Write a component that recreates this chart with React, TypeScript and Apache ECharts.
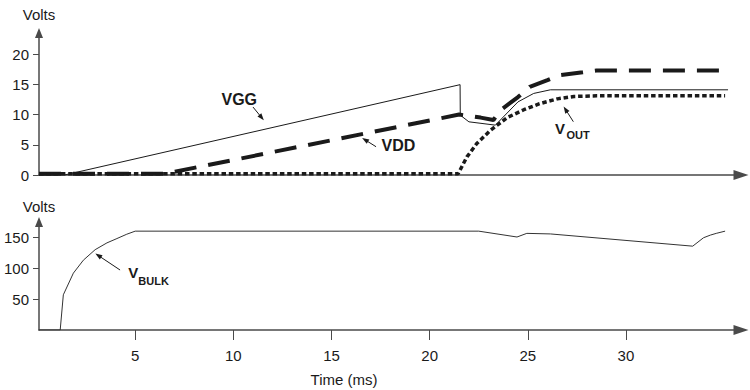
import React, { useEffect, useRef } from "react";
import * as echarts from "echarts";

// ---- data (time in ms, volts) ----
const T_VGG = [0.1, 1.4, 21.55, 21.56, 22.0, 23.35, 23.75, 24.5, 25.3, 26.15, 35.2];
const V_VGG = [0, 0, 14.95, 9.9, 8.8, 8.25, 9.6, 12.1, 13.5, 14.1, 14.1];

const T_VDD = [0.1, 6.5, 21.5, 22.6, 23.25, 23.6, 24.5, 25.1, 26.0, 26.6, 27.8, 28.5, 35.05];
const V_VDD = [0.2, 0.2, 10.0, 9.5, 9.1, 10.7, 12.9, 14.6, 15.7, 16.5, 17.0, 17.3, 17.3];

const T_VOUT = [0.1, 21.45, 21.9, 22.4, 23.1, 23.95, 24.8, 25.6, 26.5, 27.35, 28.5, 35.05];
const V_VOUT = [0.2, 0.2, 3.0, 5.2, 7.4, 9.5, 10.8, 11.8, 12.6, 13.0, 13.1, 13.1];

const T_BULK = [0.1, 1.18, 1.34, 1.85, 2.36, 2.96, 3.56, 4.07, 4.57, 5.0, 22.5, 24.45, 24.95, 26.15, 33.4, 33.95, 34.3, 34.6, 35.05];
const V_BULK = [0, 0, 57, 92, 113, 130, 141, 148, 155, 160, 160, 150.5, 156.4, 155.5, 135.7, 149.3, 153.6, 156.4, 160];

const X_TICKS = [5, 10, 15, 20, 25, 30];
const TOP_Y_TICKS = [0, 5, 10, 15, 20];
const BOTTOM_Y_TICKS = [50, 100, 150];

// annotation arrows: [tailT, tailV, headT, headV]
const ARROW_VGG = [11.0, 11.25, 11.44, 9.5];
const ARROW_VDD = [17.27, 4.68, 16.71, 5.82];
const ARROW_VOUT = [27.32, 8.82, 26.92, 10.86];
const ARROW_BULK = [4.23, 97.1, 3.12, 120.6];

const pairs = (t: number[], v: number[]) => t.map((x, i) => [x, v[i]]);

const FONT = '"Liberation Sans", Arial, Helvetica, sans-serif';
const INK = "#1a1a1a";
const AXIS = "#4a4a4a";

const arrowMark = (a: number[]) => ({
  silent: true,
  symbol: ["none", "triangle"],
  symbolSize: [5, 7],
  lineStyle: { color: INK, width: 1, type: "solid" },
  label: { show: false },
  emphasis: { disabled: true },
  data: [[{ coord: [a[0], a[1]] }, { coord: [a[2], a[3]] }]],
});

const axisLineStyle = { color: AXIS, width: 1.5 };

export default function App() {
  const ref = useRef<HTMLDivElement>(null);
  useEffect(() => {
    if (!ref.current) return;
    const chart = echarts.init(ref.current, null, { renderer: "svg" });
    const xBase = {
      type: "value",
      min: 0.1,
      max: 35.86,
      splitLine: { show: false },
      axisLine: {
        show: true,
        symbol: ["none", "triangle"],
        symbolSize: [10, 15],
        lineStyle: axisLineStyle,
      },
    };
    const yBase = {
      type: "value",
      min: 0,
      splitLine: { show: false },
      nameLocation: "end",
      nameTextStyle: { fontSize: 15, color: INK, fontFamily: FONT, align: "center" },
      axisLine: {
        show: true,
        onZero: false,
        symbol: ["none", "triangle"],
        symbolSize: [8, 10],
        lineStyle: axisLineStyle,
      },
    };
    chart.setOption({
      animation: false,
      textStyle: { fontFamily: FONT },
      grid: [
        { left: 39, right: 9, top: 33, height: 142 },
        { left: 39, right: 9, top: 222, height: 108 },
      ],
      xAxis: [
        {
          ...xBase,
          gridIndex: 0,
          axisTick: { show: false },
          axisLabel: { show: false },
        },
        {
          ...xBase,
          gridIndex: 1,
          axisTick: { show: true, customValues: X_TICKS, length: 10, lineStyle: { color: AXIS, width: 1 } },
          axisLabel: { customValues: X_TICKS, margin: 18, fontSize: 15, color: INK, fontFamily: FONT },
        },
      ],
      yAxis: [
        {
          ...yBase,
          gridIndex: 0,
          max: 23.5,
          name: "Volts",
          nameGap: 11,
          axisTick: { show: true, customValues: TOP_Y_TICKS, length: 6, lineStyle: { color: AXIS, width: 1 } },
          axisLabel: { customValues: TOP_Y_TICKS, margin: 10, fontSize: 15, color: INK, fontFamily: FONT },
        },
        {
          ...yBase,
          gridIndex: 1,
          max: 174.8,
          name: "Volts",
          nameGap: 8,
          axisTick: { show: true, customValues: BOTTOM_Y_TICKS, length: 6, lineStyle: { color: AXIS, width: 1 } },
          axisLabel: { customValues: BOTTOM_Y_TICKS, margin: 10, fontSize: 15, color: INK, fontFamily: FONT },
        },
      ],
      series: [
        {
          name: "VGG",
          type: "line",
          xAxisIndex: 0,
          yAxisIndex: 0,
          data: pairs(T_VGG, V_VGG),
          symbol: "none",
          showSymbol: false,
          lineStyle: { color: INK, width: 1 },
          emphasis: { disabled: true },
          markLine: arrowMark(ARROW_VGG),
          z: 2,
        },
        {
          name: "VDD",
          type: "line",
          xAxisIndex: 0,
          yAxisIndex: 0,
          data: pairs(T_VDD, V_VDD),
          symbol: "none",
          showSymbol: false,
          lineStyle: { color: INK, width: 4, type: [22, 12], cap: "butt" },
          emphasis: { disabled: true },
          markLine: arrowMark(ARROW_VDD),
          z: 3,
        },
        {
          name: "VOUT",
          type: "line",
          xAxisIndex: 0,
          yAxisIndex: 0,
          data: pairs(T_VOUT, V_VOUT),
          symbol: "none",
          showSymbol: false,
          lineStyle: { color: INK, width: 3.5, type: [4.5, 2.8], cap: "butt" },
          emphasis: { disabled: true },
          markLine: arrowMark(ARROW_VOUT),
          z: 4,
        },
        {
          name: "VBULK",
          type: "line",
          xAxisIndex: 1,
          yAxisIndex: 1,
          data: pairs(T_BULK, V_BULK),
          symbol: "none",
          showSymbol: false,
          lineStyle: { color: "#333", width: 1 },
          emphasis: { disabled: true },
          markLine: arrowMark(ARROW_BULK),
          z: 2,
        },
      ],
      graphic: [
        { type: "text", x: 221.5, y: 99.7, style: { text: "VGG", fill: INK, font: `bold 16px ${FONT}`, align: "left", verticalAlign: "middle" } },
        { type: "text", x: 381.5, y: 145.5, style: { text: "VDD", fill: INK, font: `bold 16px ${FONT}`, align: "left", verticalAlign: "middle" } },
        { type: "text", x: 555, y: 128, style: { text: "V", fill: INK, font: `bold 15px ${FONT}`, align: "left", verticalAlign: "middle" } },
        { type: "text", x: 566.5, y: 134.7, style: { text: "OUT", fill: INK, font: `bold 11px ${FONT}`, align: "left", verticalAlign: "middle" } },
        { type: "text", x: 128.3, y: 272.8, style: { text: "V", fill: INK, font: `bold 15px ${FONT}`, align: "left", verticalAlign: "middle" } },
        { type: "text", x: 138.3, y: 280.8, style: { text: "BULK", fill: INK, font: `bold 11px ${FONT}`, align: "left", verticalAlign: "middle" } },
        { type: "text", x: 344, y: 379, style: { text: "Time (ms)", fill: INK, font: `15px ${FONT}`, align: "center", verticalAlign: "middle" } },
      ],
    });
    return () => chart.dispose();
  }, []);
  return <div ref={ref} style={{ width: 750, height: 390, position: "absolute", left: 0, top: 0 }} />;
}
